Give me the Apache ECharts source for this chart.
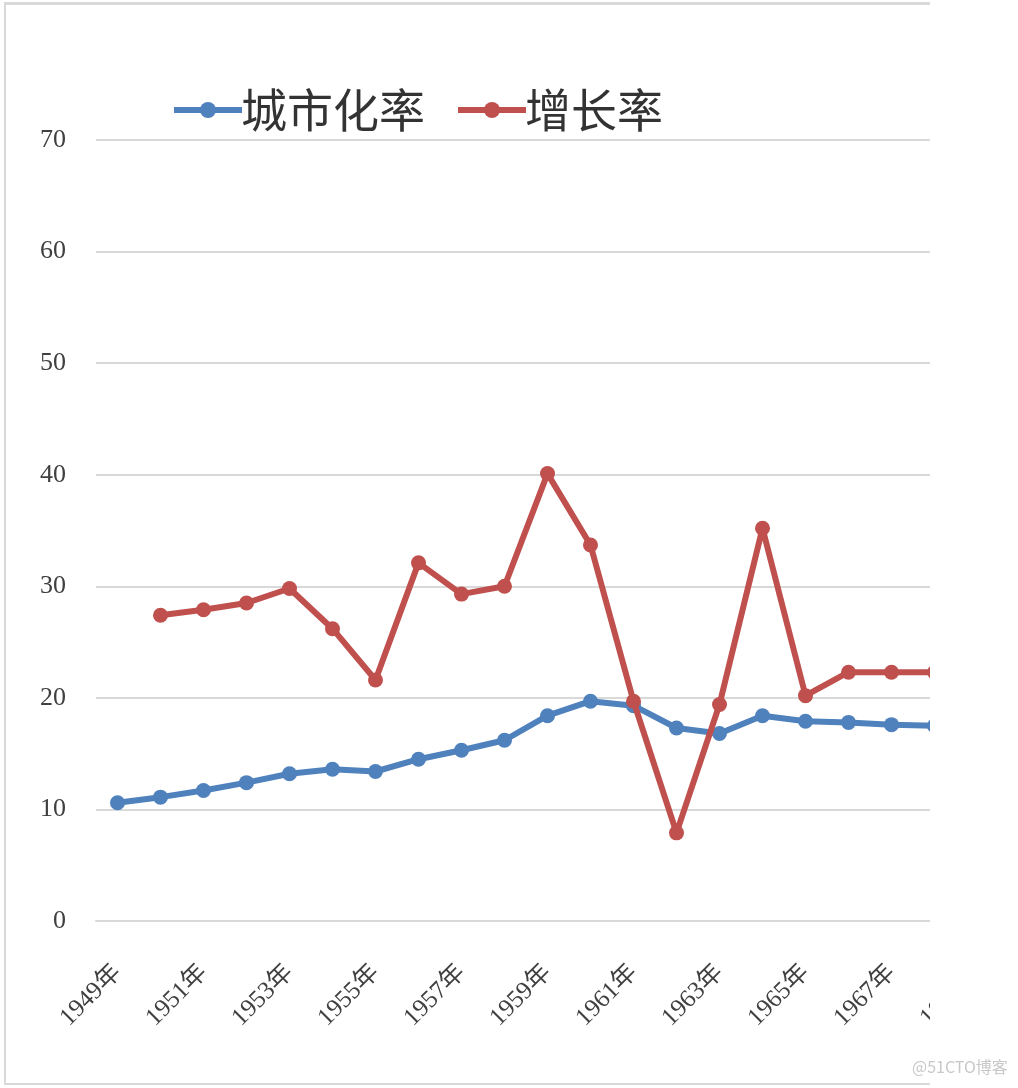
<!DOCTYPE html>
<html><head><meta charset="utf-8">
<script src="https://cdn.jsdelivr.net/npm/echarts@6/dist/echarts.min.js"></script>
<style>html,body{margin:0;padding:0;background:#fff;}#c{width:1018px;height:1088px;}</style>
</head><body><div id="c"></div>
<script>
const years = ['1949年','1950年','1951年','1952年','1953年','1954年','1955年','1956年','1957年','1958年','1959年','1960年','1961年','1962年','1963年','1964年','1965年','1966年','1967年','1968年','1969年'];
const urbanRate = [10.6,11.1,11.7,12.4,13.2,13.6,13.4,14.5,15.3,16.2,18.4,19.7,19.3,17.3,16.8,18.4,17.9,17.8,17.6,17.5,null];
const growthRate = [null,27.4,27.9,28.5,29.8,26.2,21.6,32.1,29.3,30.0,40.1,33.7,19.7,7.9,19.4,35.2,20.2,22.3,22.3,22.3,null];
const yTicks = {min:0, max:70, interval:10};

const chart = echarts.init(document.getElementById('c'), null, {renderer:'canvas'});
const serif = '"Liberation Serif","DejaVu Serif","Noto Sans CJK SC",serif';
chart.setOption({
  animation:false,
  backgroundColor:'#fff',
  legend:{
    left:166, top:82,
    itemWidth:68, itemHeight:20, itemGap:30,
    lineStyle:{width:6},
    textStyle:{fontSize:46, color:'#333', fontFamily:'"Noto Sans CJK SC",sans-serif', padding:[12,0,0,-6]},
    data:['城市化率','增长率']
  },
  grid:{left:96, right:19, top:140, bottom:167, containLabel:false},
  xAxis:{
    type:'category', data:years, boundaryGap:true,
    axisLine:{lineStyle:{color:'#d9d9d9', width:2}},
    axisTick:{show:false},
    axisLabel:{interval:1, rotate:45, margin:48, fontSize:25, color:'#404040', fontFamily:serif}
  },
  yAxis:{
    type:'value', min:yTicks.min, max:yTicks.max, interval:yTicks.interval,
    axisLine:{show:false}, axisTick:{show:false},
    axisLabel:{margin:30, fontSize:26, color:'#404040', fontFamily:serif},
    splitLine:{lineStyle:{color:'#d9d9d9', width:2}}
  },
  series:[
    {name:'城市化率', type:'line', data:urbanRate, symbol:'circle', symbolSize:15,
     lineStyle:{width:6, color:'#4f81bd'}, itemStyle:{color:'#4f81bd'}, connectNulls:false, z:3},
    {name:'增长率', type:'line', data:growthRate, symbol:'circle', symbolSize:15,
     lineStyle:{width:6, color:'#c0504d'}, itemStyle:{color:'#c0504d'}, connectNulls:false, z:4}
  ],
  graphic:[
    {type:'rect', z:100, shape:{x:930, y:0, width:88, height:1088}, style:{fill:'#fff'}},
    {type:'rect', z:101, shape:{x:4, y:2, width:926, height:3}, style:{fill:'#d9d9d9'}},
    {type:'rect', z:101, shape:{x:4, y:2, width:2, height:1083}, style:{fill:'#d9d9d9'}},
    {type:'rect', z:101, shape:{x:4, y:1083, width:926, height:2}, style:{fill:'#d9d9d9'}},
    {type:'text', z:102, left:912, top:1059, style:{text:'@51CTO博客', fontSize:16, fill:'#c8c8c8', fontFamily:'"Noto Sans CJK SC",sans-serif'}}
  ]
});
</script></body></html>
